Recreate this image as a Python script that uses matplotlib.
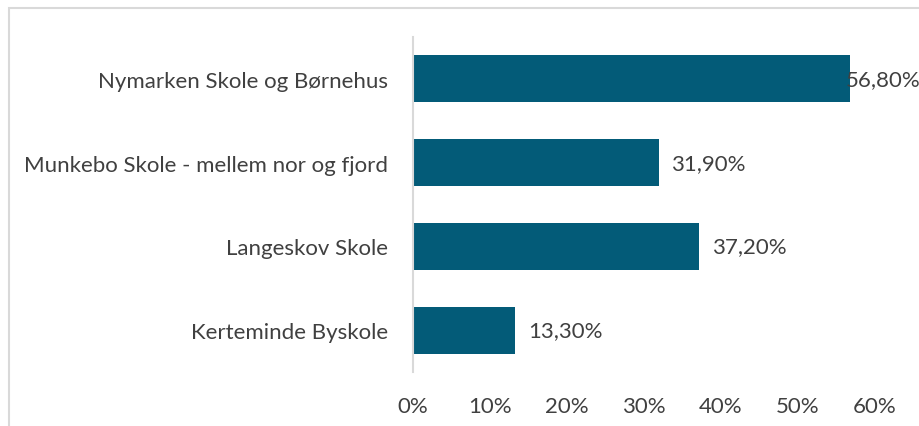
import matplotlib.pyplot as plt
from matplotlib.patches import Rectangle
from matplotlib.ticker import FuncFormatter

schools = ["Kerteminde Byskole", "Langeskov Skole",
           "Munkebo Skole - mellem nor og fjord", "Nymarken Skole og Børnehus"]
shares = [0.133, 0.372, 0.319, 0.568]
labels = ["13,30%", "37,20%", "31,90%", "56,80%"]
xticks = [0, 0.1, 0.2, 0.3, 0.4, 0.5, 0.6]

plt.rcParams["font.family"] = ["Lato", "DejaVu Sans"]
text_color = "#404040"
bar_color = "#035b78"
fsize = 16

fig = plt.figure(figsize=(9.2, 4.27), dpi=100)
fig.patches.append(Rectangle((9 / 920, -0.1), 1.2, 1 - 9 / 427 + 0.1,
                             transform=fig.transFigure, fill=False,
                             edgecolor="#d9d9d9", linewidth=1.5))
ax = fig.add_axes([413 / 920, 1 - 373 / 427, (875 - 413) / 920, (373 - 38) / 427])

ax.barh(range(len(schools)), shares, height=0.56, color=bar_color)
for i, (v, lab) in enumerate(zip(shares, labels)):
    # the widest bar's label gets pushed back over the bar end, like Excel does
    off = -3.5 if v > 0.5 else 9
    ax.annotate(lab, (v, i), xytext=(off, 0), textcoords="offset points",
                ha="left", va="center", fontsize=fsize, color=text_color)

ax.set_xlim(0, 0.6)
ax.set_ylim(-0.5, len(schools) - 0.5)
ax.set_xticks(xticks)
ax.xaxis.set_major_formatter(FuncFormatter(lambda x, p: f"{x * 100:.0f}%"))
ax.set_yticks(range(len(schools)))
ax.set_yticklabels(schools)
ax.tick_params(axis="both", length=0, labelsize=fsize, labelcolor=text_color)
ax.tick_params(axis="x", pad=17)
ax.tick_params(axis="y", pad=18)
for s in ["top", "right", "bottom"]:
    ax.spines[s].set_visible(False)
ax.spines["left"].set_color("#d9d9d9")
ax.spines["left"].set_linewidth(1.5)

fig.savefig("out.png", dpi=100)
